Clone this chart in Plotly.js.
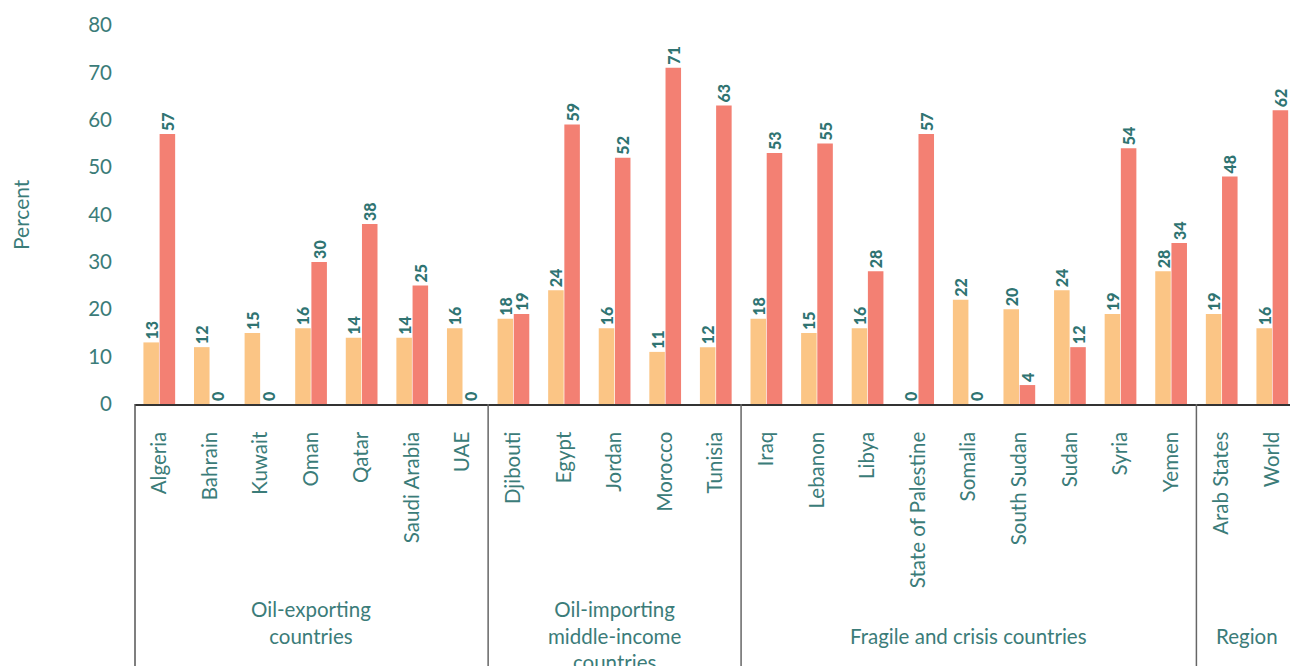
<!DOCTYPE html>
<html>
<head>
<meta charset="utf-8">
<script src="https://cdn.plot.ly/plotly-3.0.1.min.js"></script>
<style>html,body{margin:0;padding:0;background:#fff;}#chart{width:1290px;height:666px;}</style>
</head>
<body>
<div id="chart"></div>
<script>
const categories = ["Algeria","Bahrain","Kuwait","Oman","Qatar","Saudi Arabia","UAE",
  "Djibouti","Egypt","Jordan","Morocco","Tunisia",
  "Iraq","Lebanon","Libya","State of Palestine","Somalia","South Sudan","Sudan","Syria","Yemen",
  "Arab States","World"];
const seriesA = [13,12,15,16,14,14,16, 18,24,16,11,12, 18,15,16,0,22,20,24,19,28, 19,16];
const seriesB = [57,0,0,30,38,25,0, 19,59,52,71,63, 53,55,28,57,0,4,12,54,34, 48,62];
const groupLabels = ["Oil-exporting<br>countries","Oil-importing<br>middle-income<br>countries","Fragile and crisis countries","Region"];
const groupCenters = [3, 9, 16, 21.5];
const groupSeparators = [6.5, 11.5, 20.5];
const yTicks = [0,10,20,30,40,50,60,70,80];

const FONT = "Lato, 'Open Sans', sans-serif";
const TEAL = "#2f7472";
const TICK = "#3b7c79";

const barText = {family: FONT, size: 16, color: TEAL, weight: 900};

const traceA = {
  type: "bar", x: categories, y: seriesA, name: "A",
  marker: {color: "#fbc585"},
  text: seriesA.map(String), textposition: "outside", textangle: -90,
  textfont: barText, outsidetextfont: barText, constraintext: "none", cliponaxis: false,
  hoverinfo: "x+y"
};
const traceB = {
  type: "bar", x: categories, y: seriesB, name: "B",
  marker: {color: "#f38073"},
  text: seriesB.map(String), textposition: "outside", textangle: -90,
  textfont: barText, outsidetextfont: barText, constraintext: "none", cliponaxis: false,
  hoverinfo: "x+y"
};

const plotH = 666 - 25 - 262;
const yBottom = -262 / plotH;

const shapes = [{type: "line", xref: "paper", yref: "paper", x0: 0, x1: 0, y0: 0, y1: yBottom,
  line: {color: "#555", width: 1.5}}];
groupSeparators.forEach(s => shapes.push({type: "line", xref: "x", yref: "paper", x0: s, x1: s, y0: 0, y1: yBottom,
  line: {color: "#666", width: 1.5}}));

const tops = [608, 608, 635, 635];
const annotations = groupLabels.map((t, i) => ({
  text: t, xref: "x", yref: "paper", x: groupCenters[i], y: (404 - tops[i] + 13) / plotH,
  yanchor: "top", xanchor: "center", showarrow: false, align: "center",
  font: {family: FONT, size: 20.5, color: TICK}
}));
annotations.push({text: "Percent", xref: "paper", yref: "paper", x: -115 / 1155, y: (404 - 215) / plotH,
  xanchor: "center", yanchor: "middle", textangle: -90, showarrow: false,
  font: {family: FONT, size: 21, color: TICK}});

const layout = {
  width: 1290, height: 666,
  margin: {l: 135, r: 0, t: 25, b: 262, pad: 0},
  paper_bgcolor: "#fff", plot_bgcolor: "#fff",
  showlegend: false,
  barmode: "group", bargap: 0.36, bargroupgap: 0.04,
  font: {family: FONT, color: TICK},
  xaxis: {type: "category", range: [-0.48, 22.35], tickangle: -90,
    showline: true, linecolor: "#333", linewidth: 1.5, ticks: "", showgrid: false, zeroline: false,
    ticklabelstandoff: 18, tickfont: {family: FONT, size: 20.5, color: TICK}, automargin: false},
  yaxis: {range: [0, 80], tickvals: yTicks, showline: false, showgrid: false, zeroline: false,
    ticks: "", ticklabelstandoff: 22, tickfont: {family: FONT, size: 20.5, color: TICK}, automargin: false},
  shapes: shapes, annotations: annotations
};

Plotly.newPlot("chart", [traceA, traceB], layout, {displayModeBar: false, staticPlot: true});
</script>
</body>
</html>
